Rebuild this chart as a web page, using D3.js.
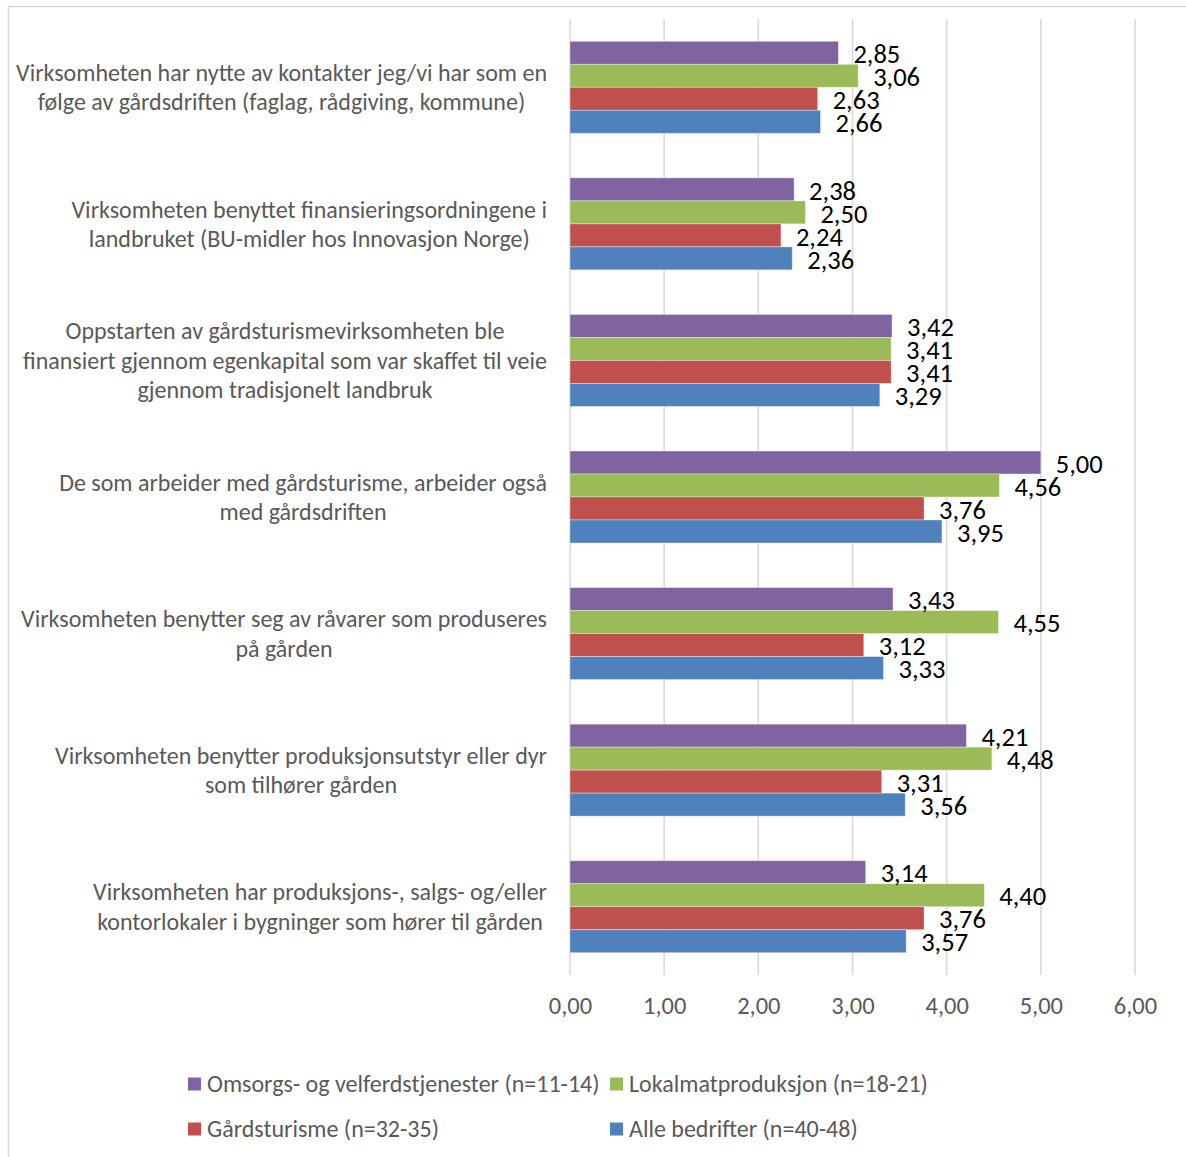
<!DOCTYPE html>
<html>
<head>
<meta charset="utf-8">
<script src="https://cdn.jsdelivr.net/npm/d3@7/dist/d3.min.js"></script>
<style>
  html, body { margin: 0; padding: 0; background: #fff; }
  svg { display: block; font-family: Carlito, Lato, "Open Sans", sans-serif; }
</style>
</head>
<body>
<svg id="chart" width="1186" height="1157"></svg>
<script>
// Statements (each entry is split into its display lines)
const categories = [
  ["Virksomheten har nytte av kontakter jeg/vi har som en", "følge av gårdsdriften (faglag, rådgiving, kommune)"],
  ["Virksomheten benyttet finansieringsordningene i", "landbruket (BU-midler hos Innovasjon Norge)"],
  ["Oppstarten av gårdsturismevirksomheten ble", "finansiert gjennom egenkapital som var skaffet til veie", "gjennom tradisjonelt landbruk"],
  ["De som arbeider med gårdsturisme, arbeider også", "med gårdsdriften"],
  ["Virksomheten benytter seg av råvarer som produseres", "på gården"],
  ["Virksomheten benytter produksjonsutstyr eller dyr", "som tilhører gården"],
  ["Virksomheten har produksjons-, salgs- og/eller", "kontorlokaler i bygninger som hører til gården"]
];

const seriesNames = [
  "Omsorgs- og velferdstjenester (n=11-14)",
  "Lokalmatproduksjon (n=18-21)",
  "Gårdsturisme (n=32-35)",
  "Alle bedrifter (n=40-48)"
];

const omsorg      = [2.85, 2.38, 3.42, 5.00, 3.43, 4.21, 3.14];
const lokalmat    = [3.06, 2.50, 3.41, 4.56, 4.55, 4.48, 4.40];
const gardsturism = [2.63, 2.24, 3.41, 3.76, 3.12, 3.31, 3.76];
const alle        = [2.66, 2.36, 3.29, 3.95, 3.33, 3.56, 3.57];

const xTicks = [0, 1, 2, 3, 4, 5, 6];

const colors = ["#8064A2", "#9BBB59", "#C0504D", "#4F81BD"];
const seriesValues = [omsorg, lokalmat, gardsturism, alle];

const fmt = v => d3.format(".2f")(v).replace(".", ",");

const svg = d3.select("#chart");
const W = 1186, H = 1157;

// outer frame
svg.append("rect")
  .attr("x", 8.5).attr("y", 6.5)
  .attr("width", W).attr("height", H)
  .attr("fill", "none").attr("stroke", "#d9d9d9").attr("stroke-width", 1.5);

const plot = { left: 570, right: 1135, top: 19, bottom: 975 };

const x = d3.scaleLinear().domain([0, 6]).range([plot.left, plot.right]);
const y = d3.scaleBand()
  .domain(d3.range(categories.length))
  .range([plot.top, plot.bottom])
  .paddingInner(0.3265)
  .paddingOuter(0.1633);
const ySub = d3.scaleBand()
  .domain(d3.range(seriesNames.length))
  .range([0, y.bandwidth()]);

// vertical gridlines
svg.append("g")
  .selectAll("line")
  .data(xTicks)
  .join("line")
  .attr("x1", d => x(d)).attr("x2", d => x(d))
  .attr("y1", plot.top).attr("y2", plot.bottom)
  .attr("stroke", "#d9d9d9").attr("stroke-width", 1.6);

// value axis labels
const xAxis = d3.axisBottom(x)
  .tickValues(xTicks)
  .tickSize(0)
  .tickPadding(0)
  .tickFormat(fmt);

const axisG = svg.append("g")
  .attr("transform", `translate(0, ${plot.bottom})`)
  .call(xAxis);
axisG.select(".domain").remove();
axisG.selectAll("text")
  .attr("y", 30)
  .attr("dy", "0.35em")
  .attr("fill", "#595959")
  .attr("font-size", 24.5)
  .attr("font-family", "Carlito, Lato, sans-serif");

// bars
const groups = svg.append("g")
  .selectAll("g")
  .data(categories.map((c, i) => i))
  .join("g")
  .attr("transform", i => `translate(0, ${y(i)})`);

groups.selectAll("rect")
  .data(i => seriesValues.map((vals, s) => ({ s, v: vals[i] })))
  .join("rect")
  .attr("x", x(0))
  .attr("y", d => ySub(d.s))
  .attr("width", d => x(d.v) - x(0))
  .attr("height", ySub.bandwidth())
  .attr("fill", d => colors[d.s])
  .attr("stroke", "rgba(255,255,255,0.45)")
  .attr("stroke-width", 0.8);

groups.selectAll("text.val")
  .data(i => seriesValues.map((vals, s) => ({ s, v: vals[i] })))
  .join("text")
  .attr("class", "val")
  .attr("x", d => x(d.v) + 15)
  .attr("y", d => ySub(d.s) + ySub.bandwidth() / 2 + 1)
  .attr("dy", "0.35em")
  .attr("font-size", 26.5)
  .attr("fill", "#000")
  .text(d => fmt(d.v));

// category labels: block right-aligned at 547, lines centred within block
const lineH = 29.5;
const labelRight = 547;
categories.forEach((lines, i) => {
  const g = svg.append("g");
  const cy = y(i) + y.bandwidth() / 2;
  const texts = lines.map((ln, k) => g.append("text")
    .attr("y", cy + (k - (lines.length - 1) / 2) * lineH)
    .attr("dy", "0.35em")
    .attr("font-size", 24)
    .attr("fill", "#595959")
    .attr("text-anchor", "middle")
    .text(ln));
  const maxW = d3.max(texts, t => t.node().getComputedTextLength());
  texts.forEach(t => t.attr("x", labelRight - maxW / 2));
});

// legend
const legendItems = [
  { s: 0, x: 188, y: 1084 },
  { s: 1, x: 610, y: 1084 },
  { s: 2, x: 188, y: 1129 },
  { s: 3, x: 610, y: 1129 }
];
const leg = svg.append("g");
leg.selectAll("rect")
  .data(legendItems)
  .join("rect")
  .attr("x", d => d.x).attr("y", d => d.y - 6.5)
  .attr("width", 13).attr("height", 13)
  .attr("fill", d => colors[d.s]);
leg.selectAll("text")
  .data(legendItems)
  .join("text")
  .attr("x", d => d.x + 19)
  .attr("y", d => d.y)
  .attr("dy", "0.35em")
  .attr("font-size", 24)
  .attr("fill", "#595959")
  .text(d => seriesNames[d.s]);
</script>
</body>
</html>
